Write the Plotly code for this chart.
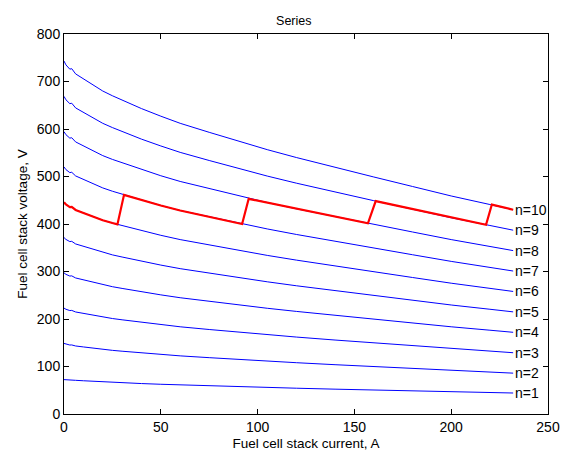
import plotly.graph_objects as go

# Current grid (A)
current = [0, 1, 3, 4, 6, 10, 15, 20, 25, 30, 40, 50, 60, 75, 90, 105, 120, 140, 160, 180, 200, 220, 232]

# Stack voltage (V) for n modules in series
v_n1 = [72.4, 72.0, 71.6, 71.6, 70.9, 70.0, 68.8, 67.6, 66.6, 65.8, 64.1, 62.6, 61.2, 59.4, 57.6, 55.9, 54.3, 52.3, 50.4, 48.5, 46.6, 45.0, 44.2]
v_n2 = [148.6, 147.0, 145.2, 145.4, 143.2, 141.2, 138.4, 136.0, 134.0, 132.2, 128.6, 125.4, 122.4, 118.6, 114.8, 111.3, 108.0, 103.8, 99.8, 95.8, 91.8, 88.2, 86.0]
v_n3 = [222.9, 220.5, 217.8, 218.1, 214.8, 211.8, 207.6, 204.0, 201.0, 198.3, 192.9, 188.1, 183.6, 177.9, 172.2, 167.0, 162.0, 155.7, 149.7, 143.7, 137.7, 132.3, 129.0]
v_n4 = [297.2, 294.0, 290.4, 290.8, 286.4, 282.4, 276.8, 272.0, 268.0, 264.4, 257.2, 250.8, 244.8, 237.2, 229.6, 222.6, 216.0, 207.6, 199.6, 191.6, 183.6, 176.4, 172.0]
v_n5 = [371.5, 367.5, 363.0, 363.5, 358.0, 353.0, 346.0, 340.0, 335.0, 330.5, 321.5, 313.5, 306.0, 296.5, 287.0, 278.3, 270.0, 259.5, 249.5, 239.5, 229.5, 220.5, 215.0]
v_n6 = [445.8, 441.0, 435.6, 436.2, 429.6, 423.6, 415.2, 408.0, 402.0, 396.6, 385.8, 376.2, 367.2, 355.8, 344.4, 333.9, 324.0, 311.4, 299.4, 287.4, 275.4, 264.6, 258.0]
v_n7 = [520.1, 514.5, 508.2, 508.9, 501.2, 494.2, 484.4, 476.0, 469.0, 462.7, 450.1, 438.9, 428.4, 415.1, 401.8, 389.6, 378.0, 363.3, 349.3, 335.3, 321.3, 308.7, 301.0]
v_n8 = [594.4, 588.0, 580.8, 581.6, 572.8, 564.8, 553.6, 544.0, 536.0, 528.8, 514.4, 501.6, 489.6, 474.4, 459.2, 445.2, 432.0, 415.2, 399.2, 383.2, 367.2, 352.8, 344.0]
v_n9 = [668.7, 661.5, 653.4, 654.3, 644.4, 635.4, 622.8, 612.0, 603.0, 594.9, 578.7, 564.3, 550.8, 533.7, 516.6, 500.9, 486.0, 467.1, 449.1, 431.1, 413.1, 396.9, 387.0]
v_n10 = [743.0, 735.0, 726.0, 727.0, 716.0, 706.0, 692.0, 680.0, 670.0, 661.0, 643.0, 627.0, 612.0, 593.0, 574.0, 556.5, 540.0, 519.0, 499.0, 479.0, 459.0, 441.0, 430.0]

series_voltages = [v_n1, v_n2, v_n3, v_n4, v_n5, v_n6, v_n7, v_n8, v_n9, v_n10]
series_labels = ["n=1", "n=2", "n=3", "n=4", "n=5", "n=6", "n=7", "n=8", "n=9", "n=10"]

# Operating path with switching between configurations
red_current = [0, 1, 3, 4, 6, 10, 15, 20, 25, 27.6,
               31, 40, 50, 60, 75, 90, 92,
               95.4, 105, 120, 140, 157,
               161, 180, 200, 218,
               221, 232]
red_voltage = [445.8, 441.0, 435.6, 436.2, 429.6, 423.6, 415.2, 408.0, 402.0, 399.2,
               461.4, 450.1, 438.9, 428.4, 415.1, 401.8, 400.0,
               453.0, 445.2, 432.0, 415.2, 401.6,
               448.2, 431.1, 413.1, 398.5,
               440.9, 430.0]

x_ticks = [0, 50, 100, 150, 200, 250]
y_ticks = [0, 100, 200, 300, 400, 500, 600, 700, 800]

FONT = "Liberation Sans, Arial, sans-serif"

fig = go.Figure()
for v in series_voltages:
    fig.add_trace(go.Scatter(x=current, y=v, mode="lines",
                             line=dict(color="#0000FF", width=1), showlegend=False,
                             hoverinfo="skip"))
fig.add_trace(go.Scatter(x=red_current, y=red_voltage, mode="lines",
                         line=dict(color="#FF0000", width=2.2), showlegend=False))

for v, lab in zip(series_voltages, series_labels):
    fig.add_annotation(x=current[-1], y=v[-1], text=lab, showarrow=False,
                       xanchor="left", yanchor="middle", xshift=0,
                       font=dict(family=FONT, size=14, color="black"))

axis_common = dict(showgrid=False, zeroline=False, showline=True, linecolor="black",
                   linewidth=1, mirror="allticks", ticks="inside", ticklen=5,
                   tickcolor="black", tickfont=dict(family=FONT, size=14, color="black"))

fig.update_xaxes(range=[0, 250], tickvals=x_ticks,
                 title=dict(text="Fuel cell stack current, A",
                            font=dict(family=FONT, size=13.5, color="black"), standoff=4),
                 **axis_common)
fig.update_yaxes(range=[0, 800], tickvals=y_ticks,
                 title=dict(text="Fuel cell stack voltage, V",
                            font=dict(family=FONT, size=13.5, color="black"), standoff=6),
                 **axis_common)

fig.update_layout(
    width=565, height=453,
    margin=dict(l=64, r=17, t=34, b=39, autoexpand=False),
    paper_bgcolor="white", plot_bgcolor="white",
    title=dict(text="Series", x=0.52, xanchor="center", y=0.955, yanchor="middle",
               font=dict(family=FONT, size=12.5, color="black")),
)

fig.write_html("out.html", config={"displayModeBar": False},
               post_script="document.body.style.margin='0';document.body.style.padding='0';")
